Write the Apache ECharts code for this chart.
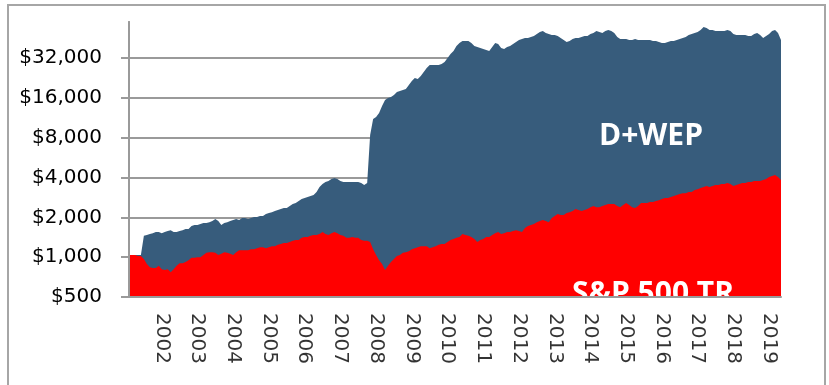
<!DOCTYPE html>
<html>
<head>
<meta charset="utf-8">
<script src="https://cdn.jsdelivr.net/npm/echarts@6/dist/echarts.min.js"></script>
<style>
  html, body { margin: 0; padding: 0; background: #fff; }
  #chart { width: 829px; height: 385px; }
</style>
</head>
<body>
<div id="chart"></div>
<script>
// Growth of $1,000, monthly from Jan 2002 to Apr 2020
const firstYear = 2002;
const monthCount = 220;

// Month categories "YYYY-MM"
const months = [];
for (let i = 0; i < monthCount; i++) {
  const y = firstYear + Math.floor(i / 12);
  const m = (i % 12) + 1;
  months.push(y + '-' + (m < 10 ? '0' + m : m));
}

// Dollar tick labels on the doubling scale
const yTicks = [500, 1000, 2000, 4000, 8000, 16000, 32000];
const yTop = 60000;

// D+WEP portfolio value ($)
const dwep = [
  1040, 1040, 1040, 1040, 1040, 1450, 1470, 1500, 1520, 1550,
  1550, 1520, 1550, 1580, 1600, 1550, 1550, 1580, 1600, 1630,
  1630, 1720, 1750, 1750, 1780, 1810, 1810, 1840, 1880, 1940,
  1880, 1750, 1810, 1840, 1880, 1910, 1940, 1910, 1980, 1980,
  1940, 1980, 2010, 2010, 2050, 2050, 2120, 2160, 2190, 2230,
  2270, 2310, 2350, 2350, 2440, 2520, 2570, 2660, 2750, 2800,
  2850, 2900, 2950, 3110, 3390, 3570, 3700, 3760, 3900, 3970,
  3900, 3760, 3700, 3700, 3700, 3700, 3700, 3700, 3640, 3510,
  3640, 8380, 11070, 11470, 12290, 13890, 15410, 15960, 16240, 16810,
  17710, 18030, 18340, 18660, 20010, 21450, 22600, 22210, 23400, 25090,
  26900, 28340, 28340, 28340, 28340, 28840, 29860, 32010, 34320, 36160,
  39440, 41560, 43030, 43030, 43030, 41560, 39440, 38760, 38090, 37440,
  36790, 36160, 38760, 41560, 40840, 38090, 37440, 38760, 39440, 40840,
  42290, 43780, 44550, 45330, 45330, 46130, 46940, 48600, 50320, 51210,
  49450, 48600, 47760, 47760, 46940, 45330, 43780, 42290, 43030, 44550,
  45330, 45330, 46130, 46940, 46940, 48600, 49450, 51210, 50320, 49450,
  51210, 52100, 51210, 49450, 46130, 44550, 44550, 44550, 43780, 43780,
  44550, 43780, 43780, 43780, 43780, 43780, 43030, 43030, 42290, 41560,
  41560, 42290, 43030, 43030, 43780, 44550, 45330, 46130, 47760, 48600,
  49450, 50320, 52100, 54900, 53950, 52100, 52100, 51210, 51210, 51210,
  51210, 52100, 51210, 48600, 47760, 47760, 47760, 47760, 46940, 46940,
  48600, 49450, 47760, 45330, 46940, 48600, 51210, 52100, 49450, 43780
];

// S&P 500 total return value ($)
const sp500tr = [
  1040, 1040, 1040, 1020, 1020, 970, 890, 840, 830, 830,
  860, 810, 800, 810, 770, 810, 860, 900, 900, 920,
  950, 990, 990, 1000, 1000, 1040, 1080, 1090, 1090, 1080,
  1040, 1060, 1090, 1080, 1060, 1040, 1090, 1130, 1130, 1130,
  1130, 1150, 1150, 1170, 1190, 1190, 1170, 1190, 1210, 1210,
  1240, 1260, 1280, 1280, 1300, 1330, 1350, 1350, 1400, 1420,
  1420, 1450, 1470, 1470, 1500, 1550, 1500, 1470, 1520, 1550,
  1520, 1470, 1450, 1400, 1400, 1420, 1400, 1400, 1350, 1330,
  1330, 1300, 1150, 1040, 950, 890, 800, 860, 920, 970,
  1020, 1040, 1080, 1090, 1110, 1150, 1170, 1190, 1210, 1210,
  1210, 1170, 1190, 1210, 1240, 1260, 1260, 1300, 1350, 1370,
  1400, 1420, 1500, 1470, 1450, 1420, 1370, 1300, 1350, 1370,
  1420, 1420, 1470, 1520, 1550, 1500, 1520, 1550, 1550, 1580,
  1600, 1580, 1550, 1660, 1720, 1750, 1780, 1840, 1880, 1910,
  1880, 1840, 1980, 2050, 2120, 2080, 2080, 2160, 2190, 2230,
  2310, 2270, 2230, 2270, 2310, 2390, 2440, 2390, 2390, 2440,
  2480, 2520, 2520, 2520, 2440, 2390, 2480, 2570, 2480, 2390,
  2350, 2440, 2570, 2570, 2570, 2610, 2610, 2660, 2700, 2750,
  2800, 2800, 2850, 2900, 2950, 3000, 3050, 3050, 3110, 3110,
  3220, 3270, 3330, 3390, 3450, 3390, 3450, 3510, 3510, 3570,
  3570, 3640, 3570, 3450, 3510, 3570, 3640, 3640, 3700, 3700,
  3760, 3760, 3760, 3830, 3900, 4040, 4110, 4180, 4040, 3830
];

// The vertical scale counts doublings above $500 (log base 2)
const toLevel = v => Math.log2(v / 500);
const fromLevel = l => 500 * Math.pow(2, l);

// Year marks sit on each December of the month axis
const yearMarks = [];
months.forEach((m, i) => {
  if (m.slice(5) === '12') yearMarks.push([i, 0, m.slice(0, 4)]);
});

const gray = '#9a9a9a';
const labelFont = 'DejaVu Sans';

const chart = echarts.init(document.getElementById('chart'));
chart.setOption({
  animation: false,
  backgroundColor: '#ffffff',
  grid: { left: 129, right: 48, top: 22, bottom: 88 },
  xAxis: {
    type: 'category',
    data: months,
    boundaryGap: false,
    z: 60,
    axisLine: { show: true, lineStyle: { color: gray, width: 2 } },
    axisTick: { show: false },
    splitLine: { show: false },
    axisLabel: { show: false }
  },
  yAxis: [
    {
      type: 'value',
      min: 0,
      max: toLevel(yTop),
      z: 0,
      axisLine: { show: true, lineStyle: { color: gray, width: 2 } },
      axisTick: {
        show: true, inside: false, length: 8,
        lineStyle: { color: gray, width: 2 },
        customValues: yTicks.map(toLevel)
      },
      axisLabel: {
        customValues: yTicks.map(toLevel),
        formatter: v => '$' + Math.round(fromLevel(v)).toLocaleString('en-US'),
        margin: 27,
        fontFamily: labelFont,
        fontSize: 20,
        color: '#000'
      },
      splitLine: { show: true, lineStyle: { color: gray, width: 2 } }
    },
    {
      // axis line redrawn above the filled areas
      type: 'value',
      min: 0,
      max: toLevel(yTop),
      position: 'left',
      z: 60,
      axisLine: { show: true, lineStyle: { color: gray, width: 2 } },
      axisTick: { show: false },
      axisLabel: { show: false },
      splitLine: { show: false }
    }
  ],
  series: [
    {
      name: 'D+WEP',
      type: 'line',
      data: dwep.map(toLevel),
      showSymbol: false,
      symbol: 'none',
      lineStyle: { width: 0 },
      areaStyle: { color: '#375c7c', opacity: 1 },
      z: 2
    },
    {
      name: 'S&P 500 TR',
      type: 'line',
      data: sp500tr.map(toLevel),
      showSymbol: false,
      symbol: 'none',
      lineStyle: { width: 0 },
      areaStyle: { color: '#ff0000', opacity: 1 },
      z: 3
    },
    {
      // vertical year labels under the month axis
      name: 'years',
      type: 'scatter',
      data: yearMarks,
      symbolSize: 2,
      itemStyle: { color: 'rgba(0,0,0,0)' },
      silent: true,
      clip: false,
      z: 70,
      label: {
        show: true,
        formatter: p => p.value[2],
        position: 'bottom',
        distance: 15,
        rotate: -90,
        align: 'left',
        verticalAlign: 'middle',
        fontFamily: labelFont,
        fontSize: 20,
        color: '#000'
      },
      labelLayout: { hideOverlap: false }
    }
  ],
  graphic: [
    {
      type: 'text', x: 651, y: 136, z: 50, silent: true,
      style: { text: 'D+WEP', fill: '#ffffff', font: 'bold 30px "Open Sans"', align: 'center', verticalAlign: 'middle' }
    },
    {
      type: 'text', x: 653, y: 294, z: 50, silent: true,
      style: { text: 'S&P 500 TR', fill: '#ffffff', font: 'bold 30px "Open Sans"', align: 'center', verticalAlign: 'middle' }
    },
    {
      // keeps the series caption inside the plot area
      type: 'rect', z: 51, silent: true,
      shape: { x: 550, y: 298, width: 210, height: 15 },
      style: { fill: '#ffffff' }
    },
    {
      type: 'rect', z: 100, silent: true,
      shape: { x: 8, y: 5, width: 817, height: 400 },
      style: { fill: 'none', stroke: '#a6a6a6', lineWidth: 2 }
    }
  ]
});
</script>
</body>
</html>
